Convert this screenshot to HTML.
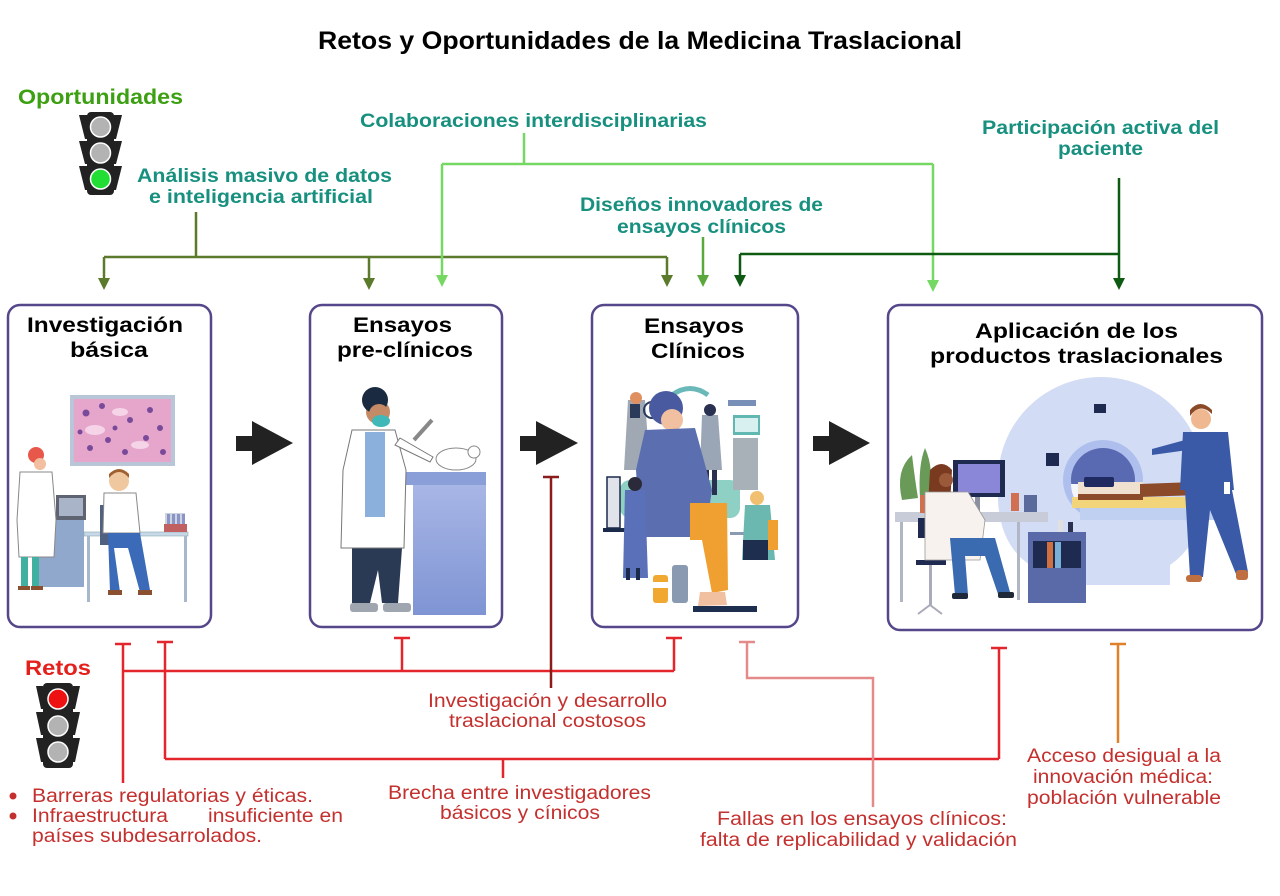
<!DOCTYPE html>
<html><head><meta charset="utf-8"><style>
html,body{margin:0;padding:0;background:#fff;}
svg{display:block;}
text{font-family:"Liberation Sans",Arial,sans-serif;}
.t{fill:#17907f;font-weight:bold;font-size:19px;}
.h{fill:#000;font-weight:bold;font-size:21px;}
.r{fill:#c4302e;font-size:19px;}
</style></head><body>
<svg width="1280" height="896" viewBox="0 0 1280 896" xmlns="http://www.w3.org/2000/svg">
<rect width="1280" height="896" fill="#fff"/>

<!-- Title -->
<text x="318" y="49" font-size="25" font-weight="bold" fill="#000" textLength="644" lengthAdjust="spacingAndGlyphs">Retos y Oportunidades de la Medicina Traslacional</text>

<!-- Oportunidades -->
<text x="18" y="104" font-size="21" font-weight="bold" fill="#3ca012" textLength="165" lengthAdjust="spacingAndGlyphs">Oportunidades</text>
<g fill="#222">
<polygon points="79,115 88,115 88,139 85,139"/><polygon points="79,141 88,141 88,164 85,164"/><polygon points="79,166 88,166 88,190 85,190"/>
<polygon points="122,115 113,115 113,139 116,139"/><polygon points="122,141 113,141 113,164 116,164"/><polygon points="122,166 113,166 113,190 116,190"/>
<rect x="87" y="112" width="27" height="83" rx="4"/>
</g>
<circle cx="100.5" cy="127" r="10" fill="#b3b3b3" stroke="#fff" stroke-width="1.5"/>
<circle cx="100.5" cy="153" r="10" fill="#b3b3b3" stroke="#fff" stroke-width="1.5"/>
<circle cx="100.5" cy="179" r="10" fill="#22dd33" stroke="#fff" stroke-width="1.5"/>

<!-- Opportunity labels -->
<text class="t" x="137" y="182" textLength="255" lengthAdjust="spacingAndGlyphs">Análisis masivo de datos</text>
<text class="t" x="149" y="203" textLength="224" lengthAdjust="spacingAndGlyphs">e inteligencia artificial</text>
<text class="t" x="360" y="127" textLength="347" lengthAdjust="spacingAndGlyphs">Colaboraciones interdisciplinarias</text>
<text class="t" x="580" y="211" textLength="243" lengthAdjust="spacingAndGlyphs">Diseños innovadores de</text>
<text class="t" x="617" y="233" textLength="169" lengthAdjust="spacingAndGlyphs">ensayos clínicos</text>
<text class="t" x="982" y="134" textLength="237" lengthAdjust="spacingAndGlyphs">Participación activa del</text>
<text class="t" x="1058" y="155" textLength="85" lengthAdjust="spacingAndGlyphs">paciente</text>

<!-- Green connectors -->
<g fill="none" stroke-width="2.5">
<path d="M196 212 V257 M104 257 H667 M104 257 V279 M369 257 V279 M667 257 V276" stroke="#5b7a2b"/>
<path d="M524 133 V164 M442 164 H933 M442 164 V276 M933 164 V281" stroke="#74d862"/>
<path d="M703 237 V276" stroke="#5aa83c"/>
<path d="M1119 178 V279 M740 254 H1119 M740 254 V276" stroke="#0e5a12"/>
</g>
<polygon points="98,278 110,278 104,290" fill="#5b7a2b"/>
<polygon points="363,278 375,278 369,290" fill="#5b7a2b"/>
<polygon points="661,275 673,275 667,287" fill="#5b7a2b"/>
<polygon points="436,275 448,275 442,287" fill="#74d862"/>
<polygon points="927,280 939,280 933,292" fill="#74d862"/>
<polygon points="697,275 709,275 703,287" fill="#5aa83c"/>
<polygon points="734,275 746,275 740,287" fill="#0e5a12"/>
<polygon points="1113,278 1125,278 1119,290" fill="#0e5a12"/>

<!-- Boxes -->
<g fill="#fff" stroke="#56468a" stroke-width="2.5">
<rect x="8" y="305" width="203" height="322" rx="12"/>
<rect x="310" y="305" width="192" height="322" rx="12"/>
<rect x="592" y="305" width="206" height="322" rx="12"/>
<rect x="888" y="305" width="374" height="325" rx="12"/>
</g>
<text class="h" x="27" y="332" textLength="156" lengthAdjust="spacingAndGlyphs">Investigación</text>
<text class="h" x="70" y="357" textLength="78" lengthAdjust="spacingAndGlyphs">básica</text>
<text class="h" x="353" y="332" textLength="99" lengthAdjust="spacingAndGlyphs">Ensayos</text>
<text class="h" x="337" y="357" textLength="136" lengthAdjust="spacingAndGlyphs">pre-clínicos</text>
<text class="h" x="644" y="333" textLength="100" lengthAdjust="spacingAndGlyphs">Ensayos</text>
<text class="h" x="651" y="358" textLength="94" lengthAdjust="spacingAndGlyphs">Clínicos</text>
<text class="h" x="975" y="338" textLength="203" lengthAdjust="spacingAndGlyphs">Aplicación de los</text>
<text class="h" x="930" y="363" textLength="293" lengthAdjust="spacingAndGlyphs">productos traslacionales</text>

<!-- Flow arrows -->
<g fill="#222">
<polygon points="236,436 252,436 252,421 293,443 252,465 252,451 236,451"/>
<polygon points="520,436 536,436 536,421 578,443 536,465 536,451 520,451"/>
<polygon points="813,436 829,436 829,421 870,443 829,465 829,451 813,451"/>
</g>

<!-- Box 1 illustration -->
<rect x="70" y="395" width="105" height="71" fill="#b8c6d8"/>
<rect x="74" y="399" width="97" height="63" fill="#e6a6cc"/>
<g fill="#f4d4e6"><ellipse cx="95" cy="430" rx="10" ry="5"/><ellipse cx="140" cy="445" rx="9" ry="4"/><ellipse cx="120" cy="412" rx="8" ry="4"/></g>
<g fill="#7a4a9a"><circle cx="86" cy="413" r="3.5"/><circle cx="102" cy="406" r="3"/><circle cx="130" cy="420" r="3"/><circle cx="150" cy="410" r="3"/><circle cx="160" cy="428" r="3"/><circle cx="90" cy="448" r="3"/><circle cx="108" cy="440" r="3"/><circle cx="125" cy="452" r="3"/><circle cx="146" cy="438" r="3"/><circle cx="163" cy="452" r="3"/><circle cx="115" cy="428" r="2.5"/><circle cx="80" cy="432" r="2.5"/></g>
<!-- cabinet + monitor -->
<rect x="34" y="520" width="50" height="67" fill="#8fa8cc"/>
<rect x="56" y="495" width="30" height="25" fill="#5e6472"/>
<rect x="59" y="498" width="24" height="18" fill="#aab4c8"/>
<!-- woman -->
<circle cx="36" cy="455" r="8" fill="#e8584a"/>
<circle cx="40" cy="464" r="6" fill="#f2c0a0"/>
<polygon points="20,472 52,472 56,520 54,557 19,557 17,520" fill="#fff" stroke="#888" stroke-width="1"/>
<rect x="21" y="557" width="7" height="31" fill="#40b0a0"/><rect x="32" y="557" width="7" height="31" fill="#40b0a0"/>
<rect x="18" y="586" width="12" height="4" fill="#8a5030"/><rect x="31" y="586" width="12" height="4" fill="#8a5030"/>
<!-- table -->
<rect x="84" y="532" width="104" height="4" fill="#c8d8e8" stroke="#8aa" stroke-width="0.6"/>
<rect x="87" y="536" width="3" height="66" fill="#a8b8cc"/><rect x="184" y="536" width="3" height="66" fill="#a8b8cc"/>
<!-- man -->
<rect x="100" y="505" width="10" height="40" fill="#506080"/>
<circle cx="119" cy="481" r="10" fill="#f0c8a0"/>
<path d="M109 478 Q119 466 129 478 L129 474 Q119 464 109 474 Z" fill="#a06030"/>
<polygon points="104,493 136,493 140,533 103,533" fill="#fff" stroke="#888" stroke-width="1"/>
<polygon points="108,533 140,533 150,590 140,592 128,548 114,548 120,592 110,592" fill="#3a6ab8"/>
<rect x="108" y="590" width="14" height="5" fill="#8a5030"/><rect x="138" y="590" width="14" height="5" fill="#8a5030"/>
<rect x="165" y="513" width="20" height="19" fill="#9ab" opacity="0.5"/>
<g fill="#8a94c8"><rect x="167" y="514" width="3" height="16"/><rect x="172" y="514" width="3" height="16"/><rect x="177" y="514" width="3" height="16"/><rect x="182" y="514" width="3" height="16"/></g>
<rect x="164" y="524" width="23" height="8" fill="#c06060"/>

<!-- Box 2 illustration -->
<defs><linearGradient id="cg" x1="0" y1="0" x2="0" y2="1"><stop offset="0" stop-color="#a8b6e6"/><stop offset="1" stop-color="#7f94d4"/></linearGradient></defs>
<rect x="413" y="485" width="73" height="130" fill="url(#cg)"/>
<rect x="406" y="472" width="80" height="13" fill="#8a9ed8"/>
<polygon points="352,548 402,548 398,603 382,603 378,570 370,603 352,603" fill="#2a3a55"/>
<rect x="350" y="603" width="28" height="9" rx="3" fill="#a0a6b0"/><rect x="383" y="603" width="28" height="9" rx="3" fill="#a0a6b0"/>
<polygon points="352,430 395,430 406,470 404,548 341,548 343,470" fill="#fff" stroke="#777" stroke-width="1"/>
<rect x="365" y="432" width="20" height="85" fill="#8cb0dc"/>
<path d="M395 445 L430 462 L433 457 L400 438 Z" fill="#fff" stroke="#777" stroke-width="1"/>
<circle cx="378" cy="412" r="12" fill="#c58a66"/>
<circle cx="375" cy="400" r="13" fill="#1a2a40"/>
<circle cx="379" cy="414" r="10" fill="#c58a66"/>
<ellipse cx="381" cy="421" rx="9" ry="6" fill="#40b8b8"/>
<path d="M414 440 L432 420" stroke="#888" stroke-width="4"/>
<ellipse cx="456" cy="459" rx="20" ry="11" fill="#fff" stroke="#888" stroke-width="1"/>
<circle cx="474" cy="452" r="6" fill="#fff" stroke="#888" stroke-width="1"/>

<!-- Box 3 illustration -->
<rect x="620" y="480" width="120" height="38" rx="10" fill="#8ed0c4"/>
<path d="M672 395 Q690 382 708 395" fill="none" stroke="#6ab8b8" stroke-width="5"/>
<rect x="733" y="415" width="27" height="20" fill="#60b8b0"/>
<rect x="735" y="418" width="23" height="14" fill="#d8f0f0"/>
<rect x="733" y="438" width="25" height="52" fill="#a8b0b8"/>
<rect x="728" y="400" width="28" height="6" fill="#7890b8"/>
<rect x="607" y="477" width="13" height="51" fill="#e0e4ea" stroke="#1a2a4a" stroke-width="1.5"/>
<rect x="603" y="528" width="40" height="4" fill="#1a2a4a"/>
<polygon points="628,400 645,400 650,470 624,470" fill="#a0a8b4"/>
<circle cx="636" cy="398" r="6" fill="#e09060"/>
<rect x="630" y="404" width="10" height="14" fill="#2a3a5a"/>
<circle cx="652" cy="410" r="8" fill="none" stroke="#2a3a5a" stroke-width="2"/>
<polygon points="702,415 718,415 722,470 700,470" fill="#9aa6b6"/>
<circle cx="710" cy="410" r="6" fill="#2a3050"/>
<rect x="704" y="470" width="5" height="25" fill="#2a3050"/><rect x="712" y="470" width="5" height="25" fill="#2a3050"/>
<circle cx="666" cy="408" r="17" fill="#4a5aa0"/>
<circle cx="672" cy="420" r="11" fill="#f0c0a0"/>
<polygon points="645,430 695,428 712,490 705,537 640,537 636,470" fill="#5b6fb0"/>
<polygon points="690,503 727,503 728,590 712,593 702,540 690,540" fill="#f0a030"/>
<rect x="693" y="606" width="64" height="6" fill="#1e2e4e"/>
<path d="M700 592 L725 592 L727 605 L698 606 Z" fill="#f0c0a0"/>
<polygon points="625,490 645,490 648,578 623,578" fill="#5a70b8"/>
<circle cx="635" cy="484" r="7" fill="#2a2a3a"/>
<rect x="626" y="568" width="4" height="12" fill="#1a2a4a"/><rect x="636" y="568" width="4" height="12" fill="#1a2a4a"/>
<rect x="653" y="575" width="15" height="28" rx="3" fill="#f0a830"/>
<rect x="672" y="565" width="16" height="38" rx="3" fill="#8a9ab0"/>
<rect x="653" y="582" width="15" height="6" fill="#fff"/>
<rect x="730" y="532" width="48" height="3" fill="#8a9ab0"/>
<polygon points="745,505 770,505 775,560 742,560" fill="#6ab8b0"/>
<circle cx="757" cy="498" r="7" fill="#f0c070"/>
<rect x="743" y="540" width="25" height="20" fill="#1e2e4e"/>
<rect x="768" y="520" width="10" height="30" fill="#f0a030"/>

<!-- Box 4 illustration -->
<path d="M998 480 A103 103 0 0 1 1204 480 L1204 500 Q1200 545 1170 565 L1170 585 L1030 585 L1030 565 Q1000 545 998 500 Z" fill="#d2ddf5"/>
<circle cx="1103" cy="480" r="40" fill="#aebfee"/>
<circle cx="1103" cy="480" r="32" fill="#5a6ab2"/>
<path d="M1071 484 A32 32 0 0 0 1135 484 Z" fill="#f4f6fc"/>
<rect x="1094" y="404" width="12" height="9" fill="#1e2a50"/>
<rect x="1046" y="453" width="13" height="13" fill="#1e2a50"/>
<rect x="1072" y="497" width="150" height="11" fill="#f2d47a"/>
<rect x="1080" y="508" width="140" height="12" fill="#c0d0f0"/>
<rect x="1078" y="482" width="65" height="15" fill="#f0e0d0"/>
<rect x="1084" y="477" width="30" height="10" rx="2" fill="#1e2a60"/>
<path d="M1140 484 L1195 482 Q1205 478 1200 495 L1140 497 Z" fill="#8b4a2a"/>
<rect x="1078" y="494" width="65" height="6" fill="#8b4a2a"/>
<!-- doctor -->
<circle cx="1201" cy="419" r="10" fill="#f0b890"/>
<path d="M1190 416 Q1200 402 1212 414 L1212 410 Q1200 398 1190 410 Z" fill="#8a4a28"/>
<polygon points="1183,432 1228,432 1234,490 1180,490" fill="#3a5aa8"/>
<path d="M1185 440 L1152 449 L1152 455 L1188 450 Z" fill="#3a5aa8"/>
<polygon points="1185,490 1232,490 1248,572 1236,574 1210,510 1203,577 1190,577" fill="#3a5aa8"/>
<rect x="1186" y="575" width="16" height="7" rx="3" fill="#c07040"/><rect x="1236" y="570" width="12" height="10" rx="3" fill="#c07040"/>
<rect x="1224" y="482" width="6" height="12" fill="#fff"/>
<!-- desk -->
<rect x="895" y="512" width="153" height="10" fill="#c8ccd8"/>
<rect x="900" y="522" width="3" height="80" fill="#b0b6c4"/><rect x="1017" y="522" width="3" height="78" fill="#b0b6c4"/>
<rect x="953" y="460" width="52" height="37" fill="#1e2a50"/>
<rect x="958" y="464" width="42" height="29" fill="#8a86d8"/>
<rect x="975" y="497" width="5" height="15" fill="#8a90a0"/>
<path d="M902 500 Q895 470 912 455 Q915 480 918 498 Z M920 498 Q918 465 925 448 Q935 470 928 498 Z M928 500 Q932 480 938 470 Q940 490 932 500 Z" fill="#6a9a58"/>
<rect x="920" y="495" width="9" height="18" fill="#d07050"/>
<rect x="1011" y="493" width="8" height="18" fill="#d07050"/>
<rect x="1024" y="495" width="13" height="17" fill="#5a6a9a"/>
<!-- chair -->
<rect x="918" y="518" width="25" height="20" fill="#1e2a50"/>
<rect x="916" y="560" width="30" height="5" fill="#1e2a50"/>
<rect x="929" y="565" width="3" height="40" fill="#aab"/>
<path d="M918 614 L930 605 L942 614" stroke="#aab" stroke-width="2" fill="none"/>
<!-- woman -->
<path d="M930 470 Q942 458 952 470 L950 505 L928 505 Z" fill="#7a3a20"/>
<circle cx="946" cy="480" r="7" fill="#9a5a3a"/>
<polygon points="925,492 968,492 985,520 980,560 925,560" fill="#f7f2ee" stroke="#999" stroke-width="0.8"/>
<polygon points="950,538 995,538 1010,592 998,594 985,556 965,556 968,595 955,595" fill="#3a6ab0"/>
<rect x="952" y="593" width="16" height="6" rx="2" fill="#1e2a3a"/><rect x="998" y="592" width="16" height="6" rx="2" fill="#1e2a3a"/>
<!-- cabinet -->
<rect x="1028" y="532" width="58" height="71" fill="#5a6aa8"/>
<rect x="1033" y="541" width="48" height="27" fill="#1e2a50"/>
<rect x="1047" y="542" width="6" height="26" fill="#d07040"/><rect x="1055" y="542" width="6" height="26" fill="#7ab0d8"/>
<rect x="1058" y="520" width="5" height="12" fill="#e0e0e0"/><rect x="1068" y="522" width="5" height="10" fill="#2a3050"/>

<!-- Retos -->
<text x="25" y="675" font-size="21" font-weight="bold" fill="#e3201c" textLength="66" lengthAdjust="spacingAndGlyphs">Retos</text>
<g fill="#222">
<polygon points="36,686 43,686 43,709 41,709"/><polygon points="36,712 43,712 43,735 41,735"/><polygon points="36,738 43,738 43,762 41,762"/>
<polygon points="80,686 73,686 73,709 75,709"/><polygon points="80,712 73,712 73,735 75,735"/><polygon points="80,738 73,738 73,762 75,762"/>
<rect x="43" y="683" width="30" height="85" rx="4"/>
</g>
<circle cx="58" cy="699" r="10" fill="#ee1111" stroke="#fff" stroke-width="1.5"/>
<circle cx="58" cy="726" r="10" fill="#b3b3b3" stroke="#fff" stroke-width="1.5"/>
<circle cx="58" cy="752" r="10" fill="#b3b3b3" stroke="#fff" stroke-width="1.5"/>

<!-- Red connectors -->
<g fill="none" stroke-width="2.5">
<path d="M115 644 H131 M123 644 V783 M157 642 H173 M165 642 V759 M123 671 H674 M394 638 H410 M402 638 V671 M666 638 H682 M674 638 V671 M165 759 H999 M991 648 H1007 M999 648 V759 M503 759 V778" stroke="#e3262b"/>
<path d="M543 477 H559 M551 477 V688" stroke="#8a1c1c"/>
<path d="M739 642 H755 M747 642 V678 H873 V807" stroke="#e48a8a"/>
<path d="M1110 644 H1126 M1118 644 V743" stroke="#e0802a"/>
</g>

<!-- Red labels -->
<circle cx="13" cy="796" r="3.5" fill="#c4302e"/>
<circle cx="13" cy="816" r="3.5" fill="#c4302e"/>
<text class="r" x="32" y="802" textLength="281" lengthAdjust="spacingAndGlyphs">Barreras regulatorias y éticas.</text>
<text class="r" x="32" y="822" textLength="136" lengthAdjust="spacingAndGlyphs">Infraestructura</text>
<text class="r" x="208" y="822" textLength="135" lengthAdjust="spacingAndGlyphs">insuficiente en</text>
<text class="r" x="32" y="842" textLength="230" lengthAdjust="spacingAndGlyphs">países subdesarrolados.</text>
<text class="r" x="428" y="707" textLength="239" lengthAdjust="spacingAndGlyphs">Investigación y desarrollo</text>
<text class="r" x="449" y="727" textLength="197" lengthAdjust="spacingAndGlyphs">traslacional costosos</text>
<text class="r" x="388" y="799" textLength="263" lengthAdjust="spacingAndGlyphs">Brecha entre investigadores</text>
<text class="r" x="440" y="819" textLength="160" lengthAdjust="spacingAndGlyphs">básicos y cínicos</text>
<text class="r" x="717" y="825" textLength="290" lengthAdjust="spacingAndGlyphs">Fallas en los ensayos clínicos:</text>
<text class="r" x="700" y="846" textLength="317" lengthAdjust="spacingAndGlyphs">falta de replicabilidad y validación</text>
<text class="r" x="1027" y="762" textLength="194" lengthAdjust="spacingAndGlyphs">Acceso desigual a la</text>
<text class="r" x="1033" y="783" textLength="180" lengthAdjust="spacingAndGlyphs">innovación médica:</text>
<text class="r" x="1027" y="804" textLength="194" lengthAdjust="spacingAndGlyphs">población vulnerable</text>
</svg>
</body></html>
